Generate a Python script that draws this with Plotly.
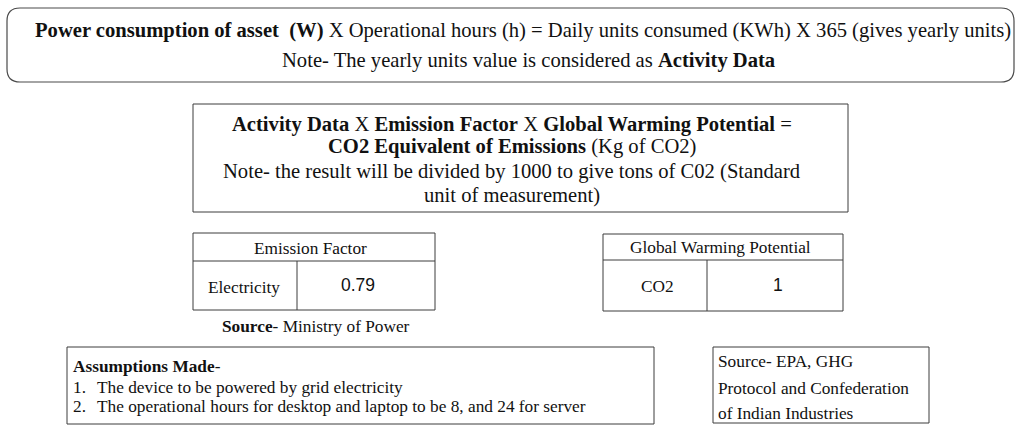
import plotly.graph_objects as go

W, H = 1017, 427

# ---- text content ----
top_lines = [
    "<b>Power consumption of asset  (W)</b> X Operational hours (h) = Daily units consumed (KWh) X 365 (gives yearly units)",
    "Note- The yearly units value is considered as <b>Activity Data</b>",
]
middle_lines = [
    "<b>Activity Data</b> X <b>Emission Factor</b> X <b>Global Warming Potential</b> =",
    "<b>CO2 Equivalent of Emissions</b> (Kg of CO2)",
    "Note- the result will be divided by 1000 to give tons of C02 (Standard",
    "unit of measurement)",
]
ef_header = "Emission Factor"
ef_label = "Electricity"
ef_value = 0.79
ef_source = "<b>Source</b>- Ministry of Power"
gwp_header = "Global Warming Potential"
gwp_label = "CO2"
gwp_value = 1
assumption_title = "<b>Assumptions Made</b>-"
assumption_nums = ["1.", "2."]
assumption_items = [
    "The device to be powered by grid electricity",
    "The operational hours for desktop and laptop to be 8, and 24 for server",
]
source_lines = ["Source- EPA, GHG", "Protocol and Confederation", "of Indian Industries"]

SERIF = "Liberation Serif, Times New Roman, serif"
SANS = "Liberation Sans, Arial, sans-serif"
LINE = "#3c3c3c"
TXT = "#111111"

fig = go.Figure()
shapes = []
annotations = []


def rect(x0, y0, x1, y1, color=LINE, width=1):
    shapes.append(dict(type="rect", xref="x", yref="y", x0=x0, y0=y0, x1=x1, y1=y1,
                       line=dict(color=color, width=width), fillcolor="rgba(0,0,0,0)"))


def line(x0, y0, x1, y1, color=LINE, width=1):
    shapes.append(dict(type="line", xref="x", yref="y", x0=x0, y0=y0, x1=x1, y1=y1,
                       line=dict(color=color, width=width)))


def text(x, y, s, size, anchor="center", font=SERIF, color=TXT):
    annotations.append(dict(x=x, y=y, xref="x", yref="y", text=s, showarrow=False,
                            xanchor=anchor, yanchor="middle",
                            font=dict(family=font, size=size, color=color)))


BIG = 20.6
SMALL = 17.3

# top rounded box
x0, y0, x1, y1, r = 7, 8, 1014, 82, 13
path = (f"M {x0+r},{y0} L {x1-r},{y0} Q {x1},{y0} {x1},{y0+r} L {x1},{y1-r} "
        f"Q {x1},{y1} {x1-r},{y1} L {x0+r},{y1} Q {x0},{y1} {x0},{y1-r} "
        f"L {x0},{y0+r} Q {x0},{y0} {x0+r},{y0} Z")
shapes.append(dict(type="path", xref="x", yref="y", path=path,
                   line=dict(color="#4a4a4a", width=1.2)))
text(523, 30, top_lines[0], BIG)
text(528, 60, top_lines[1], BIG)

# middle box
rect(193, 104, 848, 212)
for yy, s in zip([124, 146, 171, 195], middle_lines):
    text(512, yy, s, BIG)

# emission factor table
rect(193, 233, 435, 310)
line(193, 261, 435, 261)
line(297, 261, 297, 310)
text(310, 248, ef_header, SMALL)
text(244, 287, ef_label, SMALL)
text(358, 285, f"{ef_value}", 17.5, font=SANS)
text(316, 326, ef_source, SMALL)

# GWP table
rect(603, 234, 843, 311)
line(603, 260, 843, 260)
line(707, 260, 707, 311)
text(720, 247, gwp_header, SMALL)
text(657, 286, gwp_label, SMALL)
text(778, 285, f"{gwp_value}", 17.5, font=SANS)

# assumptions box
rect(67, 347, 654, 424)
text(71, 366, assumption_title, SMALL, anchor="left")
for yy, n, s in zip([387, 406], assumption_nums, assumption_items):
    text(71, yy, n, SMALL, anchor="left")
    text(95, yy, s, SMALL, anchor="left")

# source box
rect(713, 347, 929, 423)
for yy, s in zip([361, 388, 413], source_lines):
    text(716, yy, s, SMALL, anchor="left")

fig.update_layout(
    width=W, height=H,
    margin=dict(l=0, r=0, t=0, b=0),
    paper_bgcolor="white", plot_bgcolor="white",
    xaxis=dict(range=[0, W], visible=False, fixedrange=True),
    yaxis=dict(range=[H, 0], visible=False, fixedrange=True),
    shapes=shapes, annotations=annotations, showlegend=False,
)
fig.write_html("out.html", config={"displayModeBar": False},
               post_script="document.body.style.margin='0';document.body.style.overflow='hidden';")
